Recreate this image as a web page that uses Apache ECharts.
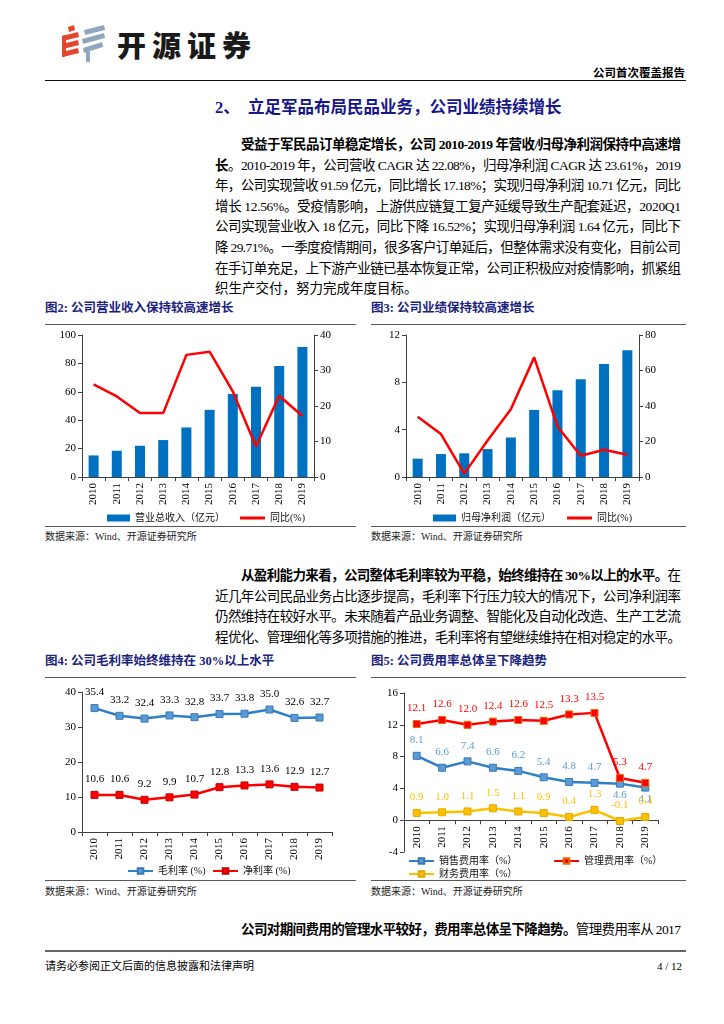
<!DOCTYPE html>
<html><head><meta charset="utf-8">
<script src="https://cdn.jsdelivr.net/npm/echarts@6/dist/echarts.min.js"></script>
<style>
html,body{margin:0;padding:0;background:#fff}
body{width:724px;height:1024px;position:relative;overflow:hidden;font-family:"Liberation Serif","Noto Sans CJK SC",serif;color:#000}
.abs{position:absolute}
.tl{position:absolute;font-size:13.5px;line-height:20px;height:20px;white-space:nowrap}
.tl b{font-weight:700}
.figt{position:absolute;font-size:12.5px;font-weight:700;color:#1a237e;white-space:nowrap;line-height:16px}
.hr{position:absolute;height:0;border-top:1.5px solid #595959}
.src{position:absolute;font-size:10px;color:#222;white-space:nowrap;line-height:12px}
.chart{position:absolute;width:320px;height:200px}
</style></head>
<body>
<!-- header -->
<svg class="abs" style="left:58px;top:24px" width="52" height="42" viewBox="0 0 52 42">
  <g fill="#E2462C">
    <polygon points="10,3 16,1 17,6 11,8"/>
    <polygon points="4,12 20,8 21,13 5,17"/>
    <polygon points="4,20 20,16 21,21 5,25"/>
    <polygon points="4,28 20,24 21,29 5,33"/>
    <polygon points="4,12 8,11 8,32 4,33"/>
  </g>
  <g fill="#8FA7BC">
    <polygon points="26,6 46,1 47,6 27,11"/>
    <polygon points="24,15 46,9 47,14 25,20"/>
    <polygon points="25,24 44,18 45,23 26,29"/>
    <polygon points="28,28 32,27 32,38 28,38"/>
  </g>
</svg>
<div class="abs" style="left:117px;top:26px;font-family:'Noto Sans CJK SC';font-weight:900;font-size:29px;letter-spacing:6px;line-height:36px;color:#1a1a1a">开源证券</div>
<div class="abs" style="right:39px;top:65px;font-family:'Noto Sans CJK SC';font-weight:700;font-size:11.5px;line-height:14px">公司首次覆盖报告</div>
<div class="hr" style="left:45px;top:80px;width:641px;border-top:1.5px solid #111"></div>

<div class="abs" style="left:215px;top:97px;font-family:'Liberation Serif','Noto Sans CJK SC';font-weight:700;font-size:16.5px;line-height:22px;color:#17178A;white-space:nowrap">2、&nbsp;&nbsp;立足军品布局民品业务，公司业绩持续增长</div>

<div id="para"></div>

<!-- figure titles -->
<div class="figt" style="left:45px;top:300px">图2: 公司营业收入保持较高速增长</div>
<div class="figt" style="left:371px;top:300px">图3: 公司业绩保持较高速增长</div>
<div class="hr" style="left:45px;top:324px;width:311px"></div>
<div class="hr" style="left:371px;top:324px;width:315px"></div>
<div class="hr" style="left:45px;top:526px;width:311px"></div>
<div class="hr" style="left:371px;top:526px;width:315px"></div>
<div class="src" style="left:45px;top:531px">数据来源：Wind、开源证券研究所</div>
<div class="src" style="left:371px;top:531px">数据来源：Wind、开源证券研究所</div>

<div class="figt" style="left:45px;top:653px">图4: 公司毛利率始终维持在 30%以上水平</div>
<div class="figt" style="left:371px;top:653px">图5: 公司费用率总体呈下降趋势</div>
<div class="hr" style="left:45px;top:677px;width:311px"></div>
<div class="hr" style="left:371px;top:677px;width:315px"></div>
<div class="hr" style="left:45px;top:880px;width:311px"></div>
<div class="hr" style="left:371px;top:880px;width:315px"></div>
<div class="src" style="left:45px;top:886px">数据来源：Wind、开源证券研究所</div>
<div class="src" style="left:371px;top:886px">数据来源：Wind、开源证券研究所</div>

<div id="c1" class="chart" style="left:40px;top:325px"></div>
<div id="c2" class="chart" style="left:365px;top:325px"></div>
<div id="c3" class="chart" style="left:40px;top:680px"></div>
<div id="c4" class="chart" style="left:365px;top:680px"></div>

<!-- footer -->
<div class="hr" style="left:45px;top:950px;width:641px;border-top:2px solid #666"></div>
<div class="abs" style="left:45px;top:959px;font-size:11px;line-height:14px;white-space:nowrap">请务必参阅正文后面的信息披露和法律声明</div>
<div class="abs" style="right:42px;top:959px;font-size:11px;line-height:14px;white-space:nowrap">4 / 12</div>

<script>
// ---------- data ----------
const years = ['2010','2011','2012','2013','2014','2015','2016','2017','2018','2019'];
const revenue = [15.2, 18.5, 22.0, 26.0, 34.9, 47.3, 58.5, 63.5, 78.2, 91.59];
const revenueYoY = [26.1, 22.7, 18.0, 18.0, 34.4, 35.3, 24.1, 8.6, 22.9, 17.18];
const netProfit = [1.55, 1.94, 2.0, 2.36, 3.34, 5.67, 7.33, 8.26, 9.55, 10.71];
const netProfitYoY = [33.9, 24.2, 1.9, 20.6, 38.2, 67.4, 28.5, 12.0, 15.4, 12.56];
const grossMargin = [35.4, 33.2, 32.4, 33.3, 32.8, 33.7, 33.8, 35.0, 32.6, 32.7];
const netMargin = [10.6, 10.6, 9.2, 9.9, 10.7, 12.8, 13.3, 13.6, 12.9, 12.7];
const sellingRate = [8.1, 6.6, 7.4, 6.6, 6.2, 5.4, 4.8, 4.7, 4.6, 4.1];
const adminRate = [12.1, 12.6, 12.0, 12.4, 12.6, 12.5, 13.3, 13.5, 5.3, 4.7];
const financeRate = [0.9, 1.0, 1.1, 1.5, 1.1, 0.9, 0.4, 1.3, -0.1, 0.4];
const c1Left = [0, 100, 20], c1Right = [0, 40, 10];
const c2Left = [0, 12, 4], c2Right = [0, 80, 20];
const c3Axis = [0, 40, 10];
const c4Axis = [-4, 16, 4];

// ---------- paragraphs ----------
const para1 = [
  ['<b>受益于军民品订单稳定增长，公司 2010-2019 年营收/归母净利润保持中高速增</b>', 241],
  ['<b>长</b>。2010-2019 年，公司营收 CAGR 达 22.08%，归母净利润 CAGR 达 23.61%，2019', 215],
  ['年，公司实现营收 91.59 亿元，同比增长 17.18%；实现归母净利润 10.71 亿元，同比', 215],
  ['增长 12.56%。受疫情影响，上游供应链复工复产延缓导致生产配套延迟，2020Q1', 215],
  ['公司实现营业收入 18 亿元，同比下降 16.52%；实现归母净利润 1.64 亿元，同比下', 215],
  ['降 29.71%。一季度疫情期间，很多客户订单延后，但整体需求没有变化，目前公司', 215],
  ['在手订单充足，上下游产业链已基本恢复正常，公司正积极应对疫情影响，抓紧组', 215],
  ['织生产交付，努力完成年度目标。', 215, true]
];
const para2 = [
  ['<b>从盈利能力来看，公司整体毛利率较为平稳，始终维持在 30%以上的水平。</b>在', 241],
  ['近几年公司民品业务占比逐步提高，毛利率下行压力较大的情况下，公司净利润率', 215],
  ['仍然维持在较好水平。未来随着产品业务调整、智能化及自动化改造、生产工艺流', 215],
  ['程优化、管理细化等多项措施的推进，毛利率将有望继续维持在相对稳定的水平。', 215]
];
const para3 = [
  ['<b>公司对期间费用的管理水平较好，费用率总体呈下降趋势。</b>管理费用率从 2017', 241]
];
const host = document.getElementById('para');
function addLines(lines, y0, step){
  lines.forEach((ln, i) => {
    const d = document.createElement('div');
    d.className = 'tl';
    d.style.left = ln[1] + 'px';
    d.style.top = (y0 + i*step - 10) + 'px';
    const s = document.createElement('span');
    s.innerHTML = ln[0];
    d.appendChild(s);
    host.appendChild(d);
    if (!ln[2]) {
      const target = 681 - ln[1];
      const w = s.getBoundingClientRect().width;
      const n = s.textContent.length;
      const ls = (target - w) / (n - 1);
      s.style.letterSpacing = ls + 'px';
    }
  });
}
addLines(para1, 145, 20.6);
addLines(para2, 576, 20.6);
addLines(para3, 930, 20.6);

// ---------- charts ----------
const SERIF = 'Liberation Serif';
const LEG_FONT = {fontFamily:'Liberation Serif, Noto Sans CJK SC', fontSize:10, color:'#111'};
const AX = '#404040';
function valAxis(cfg, pos){
  return {type:'value', min:cfg[0], max:cfg[1], interval:cfg[2], position:pos,
    axisLine:{show:true, onZero:false, lineStyle:{color:AX, width:1}},
    axisTick:{show:true, length:4, lineStyle:{color:AX}},
    splitLine:{show:false},
    axisLabel:{color:'#000', fontFamily:SERIF, fontSize:11, margin:6}};
}
function catAxis(){
  return {type:'category', data:years, boundaryGap:true,
    axisLine:{show:true, onZero:false, lineStyle:{color:AX, width:1}},
    axisTick:{show:true, length:4, lineStyle:{color:AX}},
    axisLabel:{rotate:90, margin:6, color:'#000', fontFamily:SERIF, fontSize:11}};
}

const ch1 = echarts.init(document.getElementById('c1'), null, {renderer:'canvas'});
ch1.setOption({
  animation:false,
  grid:{left:42, top:10, width:232, height:142},
  xAxis:catAxis(),
  yAxis:[valAxis(c1Left,'left'), valAxis(c1Right,'right')],
  legend:[
    {data:['营业总收入（亿元）'], left:62, top:183, itemWidth:23, itemHeight:7, textStyle:LEG_FONT, icon:'rect'},
    {data:['同比(%)'], left:195, top:183, itemWidth:25, itemHeight:3, textStyle:LEG_FONT, icon:'rect'}
  ],
  series:[
    {type:'bar', name:'营业总收入（亿元）', data:revenue, barWidth:10, itemStyle:{color:'#0070C0'}},
    {type:'line', name:'同比(%)', yAxisIndex:1, data:revenueYoY, symbol:'none', lineStyle:{color:'#FF0000', width:2.5}, itemStyle:{color:'#FF0000'}}
  ]
});

const ch2 = echarts.init(document.getElementById('c2'), null, {renderer:'canvas'});
ch2.setOption({
  animation:false,
  grid:{left:41, top:10, width:233, height:142},
  xAxis:catAxis(),
  yAxis:[valAxis(c2Left,'left'), valAxis(c2Right,'right')],
  legend:[
    {data:['归母净利润（亿元）'], left:63, top:183, itemWidth:23, itemHeight:7, textStyle:LEG_FONT, icon:'rect'},
    {data:['同比(%)'], left:197, top:183, itemWidth:25, itemHeight:3, textStyle:LEG_FONT, icon:'rect'}
  ],
  series:[
    {type:'bar', name:'归母净利润（亿元）', data:netProfit, barWidth:10, itemStyle:{color:'#0070C0'}},
    {type:'line', name:'同比(%)', yAxisIndex:1, data:netProfitYoY, symbol:'none', lineStyle:{color:'#FF0000', width:2.5}, itemStyle:{color:'#FF0000'}}
  ]
});

function lineSeries(name, data, lineColor, fill, border, labelColor, labelPos){
  return {type:'line', name, data: data.map((v,i)=> labelPos && labelPos[i] ? {value:v, label:{position:labelPos[i], distance:2}} : v),
    symbol:'rect', symbolSize:7,
    lineStyle:{color:lineColor, width:2.5},
    itemStyle:{color:fill, borderColor:border, borderWidth:1},
    label:{show:true, position:'top', distance:6, color:labelColor, fontFamily:SERIF, fontSize:11,
      formatter: p => Number(p.value).toFixed(1)},
    z:3};
}

const ch3 = echarts.init(document.getElementById('c3'), null, {renderer:'canvas'});
ch3.setOption({
  animation:false,
  grid:{left:42, top:12, width:250, height:140},
  xAxis:catAxis(),
  yAxis:valAxis(c3Axis,'left'),
  legend:[
    {data:['毛利率 (%)'], left:82, top:181, itemWidth:25, itemHeight:7, textStyle:LEG_FONT},
    {data:['净利率 (%)'], left:167, top:181, itemWidth:25, itemHeight:7, textStyle:LEG_FONT}
  ],
  series:[
    lineSeries('毛利率 (%)', grossMargin, '#2F7FC8', '#5B9BD5', '#3A78B8', '#000'),
    lineSeries('净利率 (%)', netMargin, '#FF0000', '#FF0000', '#C00000', '#000')
  ]
});

// chart 4: x axis sits on the value 0 (4 units of 20 above the grid bottom)
const c4GridH = 159;
const c4ZeroOffset = -c4GridH * (0 - c4Axis[0]) / (c4Axis[1] - c4Axis[0]);
const ch4 = echarts.init(document.getElementById('c4'), null, {renderer:'canvas'});
const sellPos = [null,null,null,null,null,null,null,null,'bottom','bottom'];
ch4.setOption({
  animation:false,
  grid:{left:39, top:13, width:254, height:c4GridH},
  xAxis:Object.assign(catAxis(), {offset:c4ZeroOffset}),
  yAxis:valAxis(c4Axis,'left'),
  legend:[
    {data:['销售费用率（%）'], left:38, top:171, itemWidth:25, itemHeight:7, textStyle:LEG_FONT},
    {data:['管理费用率（%）'], left:183, top:171, itemWidth:25, itemHeight:7, textStyle:LEG_FONT},
    {data:['财务费用率（%）'], left:38, top:184, itemWidth:25, itemHeight:7, textStyle:LEG_FONT}
  ],
  series:[
    lineSeries('销售费用率（%）', sellingRate, '#2F7FC8', '#5B9BD5', '#3A78B8', '#5B9BD5', sellPos),
    lineSeries('管理费用率（%）', adminRate, '#FF0000', '#FF0000', '#E46C0A', '#FF0000'),
    lineSeries('财务费用率（%）', financeRate, '#FFC000', '#FFC000', '#E0A800', '#FFC000')
  ]
});
</script>
</body></html>
